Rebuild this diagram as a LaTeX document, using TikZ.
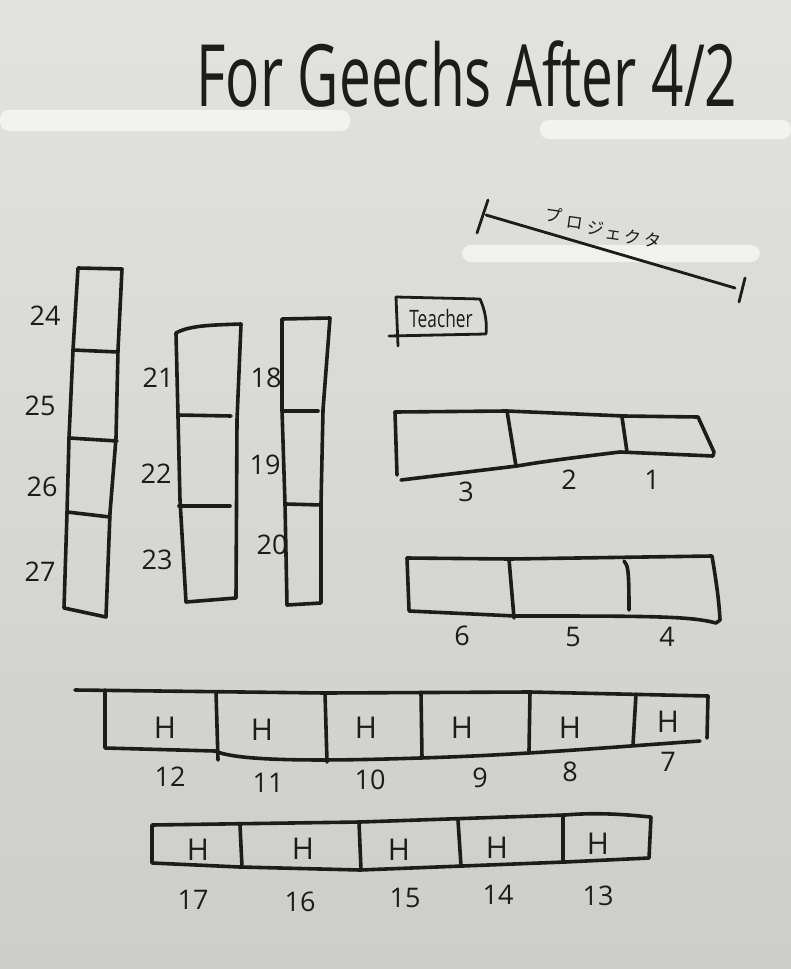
\documentclass[tikz,border=0pt]{standalone}
\usepackage{fontspec}
\newfontfamily\hand{Open Sans}
\newfontfamily\cjk{Noto Sans CJK JP}
\definecolor{inkc}{HTML}{1C1C1A}
\definecolor{boardtop}{HTML}{E2E2E0}
\definecolor{boardbot}{HTML}{CDCDCA}
\begin{document}
\begin{tikzpicture}[x=1pt,y=-1pt,
  ink/.style={draw=inkc,line width=3.6pt,line cap=round,line join=round},
  num/.style={text=inkc,font=\hand\fontsize{27}{27}\selectfont,inner sep=0pt},
  hmark/.style={text=inkc,font=\hand\fontsize{30}{30}\selectfont,inner sep=0pt},
  kana/.style={text=inkc,font=\cjk\fontsize{17}{17}\selectfont,inner sep=0pt,rotate=-8},
  glare/.style={fill=white,opacity=0.6,draw=none,rounded corners=9pt}]
\useasboundingbox (0,0) rectangle (791,969);
\shade[top color=boardtop,bottom color=boardbot] (0,0) rectangle (791,969);
% glare
\fill[glare] (0,110) rectangle (350,131);
\fill[glare] (540,120) rectangle (791,139);
\fill[glare] (462,245) rectangle (760,262);
% title
\node[text=inkc,inner sep=0pt] (title) at (467,74)
  {\scalebox{0.66}[1]{\hand\fontsize{86}{86}\selectfont For Geechs After 4/2}};
% projector
\coordinate (pl) at (486,215);
\coordinate (pr) at (735,288);
\coordinate (plt) at (488,200);
\coordinate (plb) at (477,233);
\coordinate (prt) at (745,278);
\coordinate (prb) at (739,302);
\draw[ink,line width=2.8pt] (pl) -- (pr);
\draw[ink,line width=2.8pt] (plt) -- (plb);
\draw[ink,line width=2.8pt] (prt) -- (prb);
\node[kana] (k1) at (554,215) {プ};
\node[kana] (k2) at (575,223) {ロ};
\node[kana] (k3) at (596,228) {ジ};
\node[kana] (k4) at (614,235) {ェ};
\node[kana] (k5) at (633,237) {ク};
\node[kana] (k6) at (653,240) {タ};
% teacher
\draw[ink,line width=2.8pt] (396,297) -- (480,299) .. controls (486,312) and (487,325) .. (486,334) -- (389,336);
\draw[ink,line width=2.8pt] (396,297) -- (398,346);
\node[text=inkc,inner sep=0pt] (teacher) at (441,318) {\scalebox{0.72}[1]{\hand\fontsize{24}{24}\selectfont Teacher}};
% column 24-27
\draw[ink] (78,268) -- (122,269) -- (118,350) -- (116,438) -- (110,513) -- (106,617) -- (64,608) -- (67,513) -- (69,438) -- (73,350) -- cycle;
\draw[ink] (73,350) -- (118,352);
\draw[ink] (69,438) -- (117,441);
\draw[ink] (67,512) -- (110,517);
\node[num] (n24) at (45,316) {24};
\node[num] (n25) at (40,406) {25};
\node[num] (n26) at (42,487) {26};
\node[num] (n27) at (40,572) {27};
% column 21-23
\draw[ink] (176,333) .. controls (190,325) and (215,325) .. (241,324) -- (237,420) -- (236,598) -- (186,602) -- (180,500) -- cycle;
\draw[ink] (178,415) -- (231,416);
\draw[ink] (179,506) -- (230,506);
\node[num] (n21) at (158,378) {21};
\node[num] (n22) at (156,474) {22};
\node[num] (n23) at (157,560) {23};
% column 18-20
\draw[ink] (282,319) -- (330,318) -- (323,410) -- (321,504) -- (321,603) -- (287,605) -- (285,504) -- (282,410) -- cycle;
\draw[ink] (282,411) -- (318,411);
\draw[ink] (286,504) -- (321,505);
\node[num] (n18) at (266,378) {18};
\node[num] (n19) at (265,465) {19};
\node[num] (n20) at (272,545) {20};
% row 3 2 1
\draw[ink] (395,412) -- (507,411) -- (624,416) -- (698,417) -- (714,452) -- (713,456) -- (620,452) .. controls (570,458) and (540,462) .. (517,466) -- (401,480);
\draw[ink] (395,412) -- (397,475);
\draw[ink] (507,411) -- (516,466);
\draw[ink] (622,417) -- (627,452);
\node[num] (n3) at (466,492) {3};
\node[num] (n2) at (569,480) {2};
\node[num] (n1) at (652,480) {1};
% row 6 5 4
\draw[ink] (407,558) -- (510,559) -- (712,556) .. controls (716,580) and (719,600) .. (720,620) -- (716,623) .. controls (690,616) and (650,616) .. (515,616) -- (409,611);
\draw[ink] (407,558) -- (409,610);
\draw[ink] (509,559) -- (514,618);
\draw[ink] (624,561) .. controls (628,565) and (629,570) .. (629,610);
\node[num] (n6) at (462,636) {6};
\node[num] (n5) at (573,637) {5};
\node[num] (n4) at (667,637) {4};
% row 12 .. 7
\draw[ink] (75,690) -- (325,693) -- (530,692) -- (708,696);
\draw[ink] (105,690) -- (105,748) -- (215,751) .. controls (235,760) and (300,762) .. (420,758) .. controls (520,755) and (600,748) .. (700,741);
\draw[ink] (708,696) -- (707,738);
\draw[ink] (216,692) -- (218,760);
\draw[ink] (325,693) -- (327,762);
\draw[ink] (421,693) -- (422,758);
\draw[ink] (530,692) -- (529,751);
\draw[ink] (636,694) -- (633,745);
\node[hmark] (h12) at (165,728) {H};
\node[hmark] (h11) at (262,730) {H};
\node[hmark] (h10) at (366,728) {H};
\node[hmark] (h9) at (462,728) {H};
\node[hmark] (h8) at (570,728) {H};
\node[hmark] (h7) at (668,722) {H};
\node[num] (n12) at (170,777) {12};
\node[num] (n11) at (268,783) {11};
\node[num] (n10) at (370,780) {10};
\node[num] (n9) at (480,778) {9};
\node[num] (n8) at (570,772) {8};
\node[num] (n7) at (668,762) {7};
% row 17 .. 13
\draw[ink] (152,825) -- (360,822) -- (565,815) .. controls (600,812) and (630,815) .. (651,817) -- (649,858) -- (565,862) -- (360,870) -- (240,867) -- (152,863) -- cycle;
\draw[ink] (240,825) -- (242,867);
\draw[ink] (359,822) -- (361,870);
\draw[ink] (458,820) -- (461,866);
\draw[ink] (563,815) -- (563,862);
\node[hmark] (h17) at (198,850) {H};
\node[hmark] (h16) at (303,849) {H};
\node[hmark] (h15) at (399,850) {H};
\node[hmark] (h14) at (497,848) {H};
\node[hmark] (h13) at (598,844) {H};
\node[num] (n17) at (193,900) {17};
\node[num] (n16) at (300,902) {16};
\node[num] (n15) at (405,898) {15};
\node[num] (n14) at (498,895) {14};
\node[num] (n13) at (598,896) {13};
\end{tikzpicture}
\end{document}
